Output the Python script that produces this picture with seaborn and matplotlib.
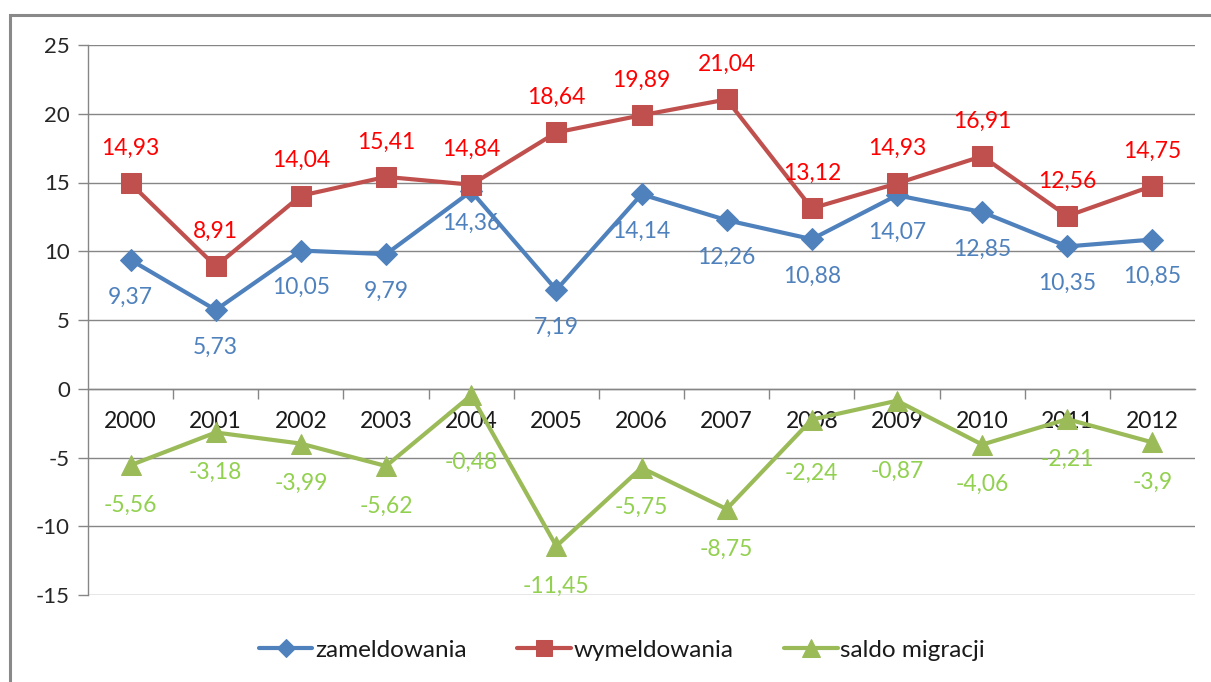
import matplotlib
matplotlib.use("Agg")
import matplotlib.pyplot as plt
import matplotlib.patches as mpatches
from matplotlib.ticker import FixedLocator, NullFormatter
import seaborn as sns
import pandas as pd
import numpy as np

years = ["2000", "2001", "2002", "2003", "2004", "2005", "2006",
         "2007", "2008", "2009", "2010", "2011", "2012"]
zameldowania = [9.37, 5.73, 10.05, 9.79, 14.36, 7.19, 14.14, 12.26, 10.88, 14.07, 12.85, 10.35, 10.85]
wymeldowania = [14.93, 8.91, 14.04, 15.41, 14.84, 18.64, 19.89, 21.04, 13.12, 14.93, 16.91, 12.56, 14.75]
saldo = [-5.56, -3.18, -3.99, -5.62, -0.48, -11.45, -5.75, -8.75, -2.24, -0.87, -4.06, -2.21, -3.9]
series_names = ["zameldowania", "wymeldowania", "saldo migracji"]
y_ticks = [25, 20, 15, 10, 5, 0, -5, -10, -15]

sns.set_theme(style="white")
plt.rcParams['font.family'] = ['Lato', 'DejaVu Sans']

fig = plt.figure(figsize=(12.11, 6.82), dpi=100)
ax = fig.add_axes([88/1211, 1-595/682, (1195-88)/1211, (595-45)/682])

x = np.arange(len(years))
data = {series_names[0]: zameldowania, series_names[1]: wymeldowania, series_names[2]: saldo}
line_colors = ["#4F81BD", "#C0504D", "#9BBB59"]
label_colors = ["#4F81BD", "#FF0000", "#92D050"]
markers = ["D", "s", "^"]
msizes = [11, 14, 15]
# label offsets in pixels (negative = below the point)
offsets = [-37, 35, -40]
# labels moved by the chart tool to avoid the category labels
offset_override = {(2, 4): -67, (2, 8): -54, (2, 9): -71, (0, 4): -32}

for i, name in enumerate(series_names):
    df = pd.DataFrame({"x": x, "y": data[name]})
    sns.lineplot(data=df, x="x", y="y", ax=ax, color=line_colors[i], marker=markers[i],
                 markersize=msizes[i], markeredgecolor=line_colors[i], linewidth=3,
                 label=name, zorder=3)
    for xi, v in zip(x, data[name]):
        txt = f"{v:g}".replace(".", ",")
        off = offset_override.get((i, int(xi)), offsets[i])
        ax.annotate(txt, (xi, v), xytext=(0, off * 0.72), textcoords="offset points",
                    ha="center", va="center", color=label_colors[i], fontsize=16.5, zorder=4)

ax.set_xlim(-0.5, len(years) - 0.5)
ax.set_ylim(-15, 25)
ax.set_yticks(y_ticks)
ax.set_yticklabels([str(t) for t in y_ticks])
ax.yaxis.grid(True, color="#868686", linewidth=1)
ax.set_axisbelow(True)
ax.tick_params(axis="y", which="major", length=7, color="#868686", labelsize=16,
               labelcolor="#262626", pad=6, left=True, direction="out", width=1)

ax.spines["top"].set_visible(False)
ax.spines["right"].set_visible(False)
ax.spines["left"].set_color("#868686")
ax.spines["left"].set_linewidth(1)
ax.spines["bottom"].set_position(("data", 0))
ax.spines["bottom"].set_color("#868686")
ax.spines["bottom"].set_linewidth(1)

ax.set_xticks(x)
ax.set_xticklabels(years)
ax.xaxis.set_minor_locator(FixedLocator(np.arange(0.5, len(years) - 0.5, 1.0)))
ax.xaxis.set_minor_formatter(NullFormatter())
ax.tick_params(axis="x", which="major", length=0, labelsize=16.5, labelcolor="#1a1a1a", pad=16)
ax.tick_params(axis="x", which="minor", length=7, color="#868686", width=1, bottom=True,
               direction="out")
ax.set_xlabel("")
ax.set_ylabel("")

leg = ax.legend(loc="center", bbox_to_anchor=(622/1211, 1 - 650/682), bbox_transform=fig.transFigure,
                ncol=3, frameon=False, fontsize=17.5, handlelength=2.2, columnspacing=2.1,
                handletextpad=0.1, markerscale=0.85)
for t in leg.get_texts():
    t.set_color("#1a1a1a")

fig.patches.append(mpatches.Rectangle((10/1211, -0.1), 2, 1 - 15/682 + 0.1, transform=fig.transFigure,
                                      fill=False, edgecolor="#898989", linewidth=2.2))

fig.savefig("out.png", dpi=100, facecolor="white")
